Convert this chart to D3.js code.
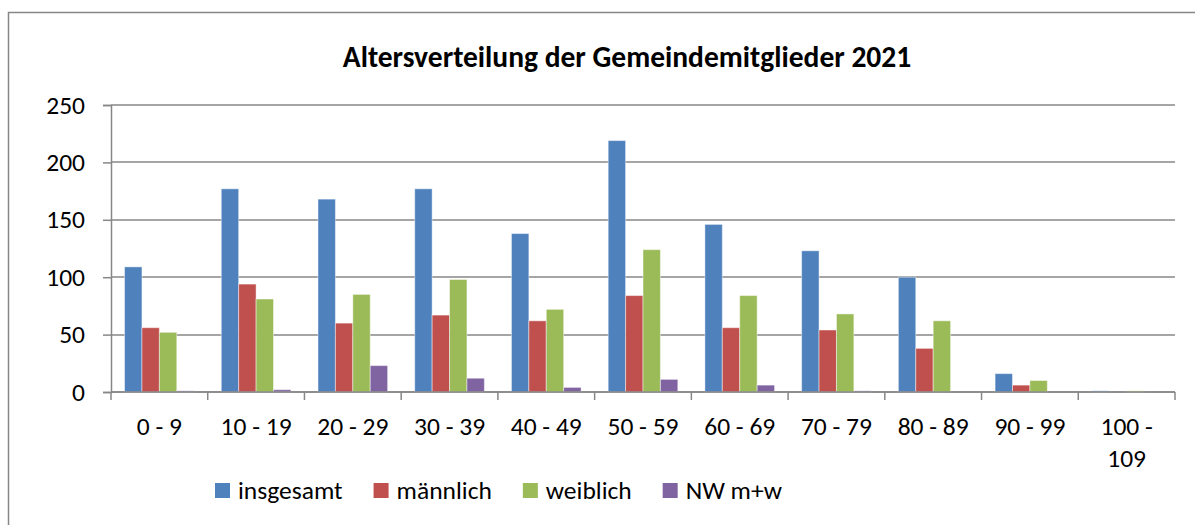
<!DOCTYPE html>
<html>
<head>
<meta charset="utf-8">
<style>
  body { margin: 0; background: #fff; font-family: Carlito, Calibri, Lato, sans-serif; }
  svg { display: block; }
  .grid line { stroke: #878787; stroke-width: 1.5px; }
  .axis path, .axis line { stroke: #878787; stroke-width: 1.5px; }
  .axis text { font-size: 25.5px; fill: #000; font-family: Carlito, Calibri, Lato, sans-serif; }
  .title { font-size: 29.5px; font-weight: bold; text-anchor: middle; }
  .legend text { font-size: 25.5px; }
</style>
</head>
<body>
<script src="https://cdn.jsdelivr.net/npm/d3@7"></script>
<script>

  var categories = ["0 - 9", "10 - 19", "20 - 29", "30 - 39", "40 - 49", "50 - 59", "60 - 69", "70 - 79", "80 - 89", "90 - 99", "100 - 109"];
  var seriesNames = ["insgesamt", "männlich", "weiblich", "NW m+w"];
  var colors = ["#4F81BD", "#C0504D", "#9BBB59", "#8064A2"];

  var insgesamt = [109, 177, 168, 177, 138, 219, 146, 123, 100, 16, 1];
  var maennlich = [56, 94, 60, 67, 62, 84, 56, 54, 38, 6, 0];
  var weiblich  = [52, 81, 85, 98, 72, 124, 84, 68, 62, 10, 1];
  var nwMW      = [1, 2, 23, 12, 4, 11, 6, 1, 0, 0, 0];

  var yTicks = [0, 50, 100, 150, 200, 250];

  var allSeries = [insgesamt, maennlich, weiblich, nwMW];

  var W = 1195, H = 525;
  var margin = {top: 105, left: 111},
      width = 1064,
      height = 287;

  var svg = d3.select("body").append("svg")
       .attr("width", W)
       .attr("height", H);

  // chart frame (runs off the right/bottom edge like in the screenshot)
  svg.append("rect")
       .attr("x", 8.5).attr("y", 12.5)
       .attr("width", W + 40).attr("height", H + 40)
       .attr("fill", "none")
       .attr("stroke", "#868686")
       .attr("stroke-width", 1.5);

  svg.append("text")
       .attr("class", "title")
       .attr("x", 627)
       .attr("y", 67)
       .text("Altersverteilung der Gemeindemitglieder 2021");

  var g = svg.append("g")
       .attr("transform", "translate(" + margin.left + "," + margin.top + ")");

  var x0 = d3.scaleBand()
       .domain(categories)
       .range([0, width])
       .padding(0);

  var gap = x0.bandwidth() * 0.14;
  var x1 = d3.scaleBand()
       .domain(d3.range(seriesNames.length))
       .range([gap, x0.bandwidth() - gap])
       .padding(0);

  var y = d3.scaleLinear()
       .domain([0, 250])
       .range([height, 0]);

  g.append("g")
       .attr("class", "grid")
     .selectAll("line").data(yTicks)
     .enter().append("line")
       .attr("x1", 0).attr("x2", width)
       .attr("y1", function(d) { return Math.round(y(d)); })
       .attr("y2", function(d) { return Math.round(y(d)); });

  var groups = g.selectAll(".cat")
       .data(categories)
     .enter().append("g")
       .attr("class", "cat")
       .attr("transform", function(d) { return "translate(" + x0(d) + ",0)"; });

  groups.selectAll("rect")
       .data(function(d, i) {
            return allSeries.map(function(s, k) { return {k: k, value: s[i]}; });
       })
     .enter().append("rect")
       .attr("x", function(d) { return x1(d.k); })
       .attr("width", x1.bandwidth())
       .attr("y", function(d) { return y(d.value); })
       .attr("height", function(d) { return height - y(d.value); })
       .attr("fill", function(d) { return colors[d.k]; })
       .attr("stroke", "#ffffff")
       .attr("stroke-opacity", 0.45)
       .attr("stroke-width", 1);

  var yAxis = d3.axisLeft(y)
       .tickValues(yTicks)
       .tickSize(8)
       .tickPadding(18);

  g.append("g")
       .attr("class", "y axis")
       .call(yAxis)
       .call(function(a) { a.selectAll("text").attr("font-size", null).attr("font-family", null); });

  // x axis: ticks sit on the category boundaries
  var xAxisG = g.append("g")
       .attr("class", "x axis")
       .attr("transform", "translate(0," + height + ")");

  xAxisG.append("line")
       .attr("x1", 0).attr("x2", width)
       .attr("y1", 0).attr("y2", 0);

  xAxisG.selectAll(".tick")
       .data(categories.concat([null]))
     .enter().append("line")
       .attr("class", "tick")
       .attr("x1", function(d, i) { return i * x0.bandwidth(); })
       .attr("x2", function(d, i) { return i * x0.bandwidth(); })
       .attr("y1", 0).attr("y2", 8);

  var labels = xAxisG.selectAll(".lbl")
       .data(categories)
     .enter().append("text")
       .attr("class", "lbl")
       .attr("text-anchor", "middle")
       .attr("x", function(d) { return x0(d) + x0.bandwidth() / 2; })
       .attr("y", 43);

  labels.each(function(d) {
       var t = d3.select(this);
       t.text(d);
       if (this.getComputedTextLength() > x0.bandwidth() * 0.9) {
            var cut = d.lastIndexOf(" ");
            t.text(null);
            t.append("tspan").attr("x", t.attr("x")).text(d.slice(0, cut));
            t.append("tspan").attr("x", t.attr("x")).attr("dy", 32).text(d.slice(cut + 1));
       }
  });

  // legend: square, label, then gap to next entry
  var legend = svg.append("g")
       .attr("class", "legend")
       .attr("transform", "translate(215,483)");

  var lx = 0;
  seriesNames.forEach(function(name, i) {
       var item = legend.append("g")
            .attr("transform", "translate(" + lx + ",0)");
       item.append("rect")
            .attr("width", 15).attr("height", 15)
            .attr("fill", colors[i]);
       var txt = item.append("text")
            .attr("x", 23)
            .attr("y", 16)
            .text(name);
       lx += 23 + txt.node().getComputedTextLength() + 31;
  });

</script>
</body>
</html>
